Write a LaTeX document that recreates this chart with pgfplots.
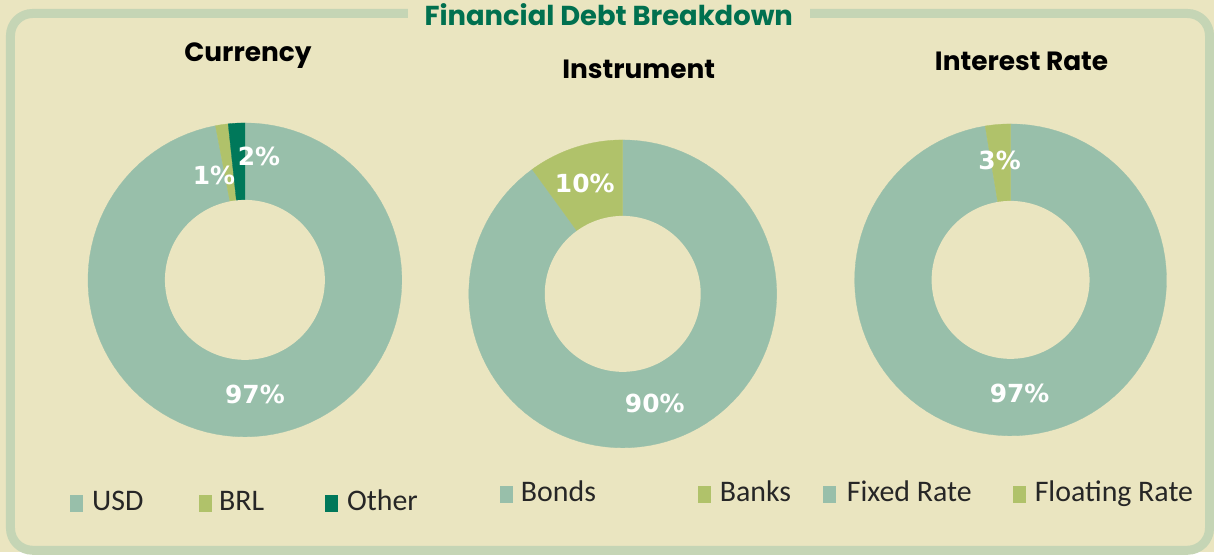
\documentclass[border=0pt]{standalone}
\usepackage{pgfplots}
\pgfplotsset{compat=1.18}
\usepackage{fontspec}
\setmainfont{Carlito}
\newfontfamily\titlefont{Poppins}
\newfontfamily\labelfont{DejaVu Sans}
\definecolor{bg}{HTML}{EAE5C0}
\definecolor{framec}{HTML}{C5D5B5}
\definecolor{sage}{HTML}{98BFAA}
\definecolor{lime}{HTML}{B0C26A}
\definecolor{dgreen}{HTML}{00785A}
\definecolor{tgreen}{HTML}{00704F}

% slice: cx, cy, R, start %, end %, colour (clockwise from 12 o'clock)
\newcommand{\slice}[6]{%
  \addplot[fill=#6, draw=#6, line width=0.3bp, domain=#4*3.6:#5*3.6, samples=100, variable=\t]
    ({#1+#3*sin(\t)},{#2+#3*cos(\t)}) -- (axis cs:#1,#2) -- cycle;
}
\newcommand{\hole}[3]{%
  \addplot[fill=bg, draw=none, domain=0:360, samples=160, variable=\t]
    ({#1+#3*sin(\t)},{#2+#3*cos(\t)}) -- cycle;
}
\newcommand{\dlabel}[3]{\node[text=white, inner sep=0] at (axis cs:#1,#2) {\labelfont\bfseries\fontsize{25}{28}\selectfont #3};}
\newcommand{\legsq}[5]{% x1 y1 x2 y2 colour
  \fill[#5] (axis cs:#1,#2) rectangle (axis cs:#3,#4);}
\newcommand{\legtx}[3]{\node[anchor=base west, inner sep=0, text=black!85] at (axis cs:#1,#2) {\fontsize{30}{34}\selectfont #3};}

\begin{document}
\begin{tikzpicture}
\begin{axis}[width=1214bp, height=552bp, scale only axis,
  xmin=0, xmax=1214, ymin=0, ymax=552, hide axis, clip=false]
\fill[bg] (axis cs:0,0) rectangle (axis cs:1214,552);
% frame
\draw[framec, line width=9bp, rounded corners=22bp] (axis cs:10.5,538.5) rectangle (axis cs:1210,1.5);
\fill[bg] (axis cs:408,522) rectangle (axis cs:810,552);
\node[inner sep=0, text=tgreen] at (axis cs:609,537) {\titlefont\bfseries\fontsize{27.5}{30}\selectfont Financial Debt Breakdown};

% Currency: USD 97, BRL 1.3, Other 1.7
\slice{245}{272}{157}{0}{97}{sage}
\slice{245}{272}{157}{97}{98.3}{lime}
\slice{245}{272}{157}{98.3}{100}{dgreen}
\hole{245}{272}{80}
% Instrument: Bonds 90, Banks 10
\slice{623}{258}{154}{0}{90}{sage}
\slice{623}{258}{154}{90}{100}{lime}
\hole{623}{258}{78}
% Interest rate: Fixed 97.4, Floating 2.6
\slice{1011}{272}{156}{0}{97.4}{sage}
\slice{1011}{272}{156}{97.4}{100}{lime}
\hole{1011}{272}{79}

% data labels
\dlabel{255}{157}{97\%}
\dlabel{214}{376}{1\%}
\dlabel{259}{395}{2\%}
\dlabel{585}{368}{10\%}
\dlabel{655}{148}{90\%}
\dlabel{1000}{391}{3\%}
\dlabel{1020}{158}{97\%}

% titles
\node[inner sep=0] at (axis cs:248,496) {\titlefont\bfseries\fontsize{26.5}{30}\selectfont Currency};
\node[inner sep=0] at (axis cs:639,483) {\titlefont\bfseries\fontsize{26.5}{30}\selectfont Instrument};
\node[inner sep=0] at (axis cs:1022,491) {\titlefont\bfseries\fontsize{26.5}{30}\selectfont Interest Rate};

% legends
\legsq{70}{40}{83}{57}{sage}\legtx{92}{41}{USD}
\legsq{199}{40}{212}{57}{lime}\legtx{219}{41}{BRL}
\legsq{325}{40}{338}{57}{dgreen}\legtx{347}{41}{Other}
\legsq{500}{49}{513}{66}{sage}\legtx{521}{50}{Bonds}
\legsq{698}{49}{711}{66}{lime}\legtx{720}{50}{Banks}
\legsq{823}{49}{836}{66}{sage}\legtx{847}{50}{Fixed Rate}
\legsq{1013}{49}{1026}{66}{lime}\legtx{1035}{50}{Floating Rate}
\end{axis}
\end{tikzpicture}
\end{document}
